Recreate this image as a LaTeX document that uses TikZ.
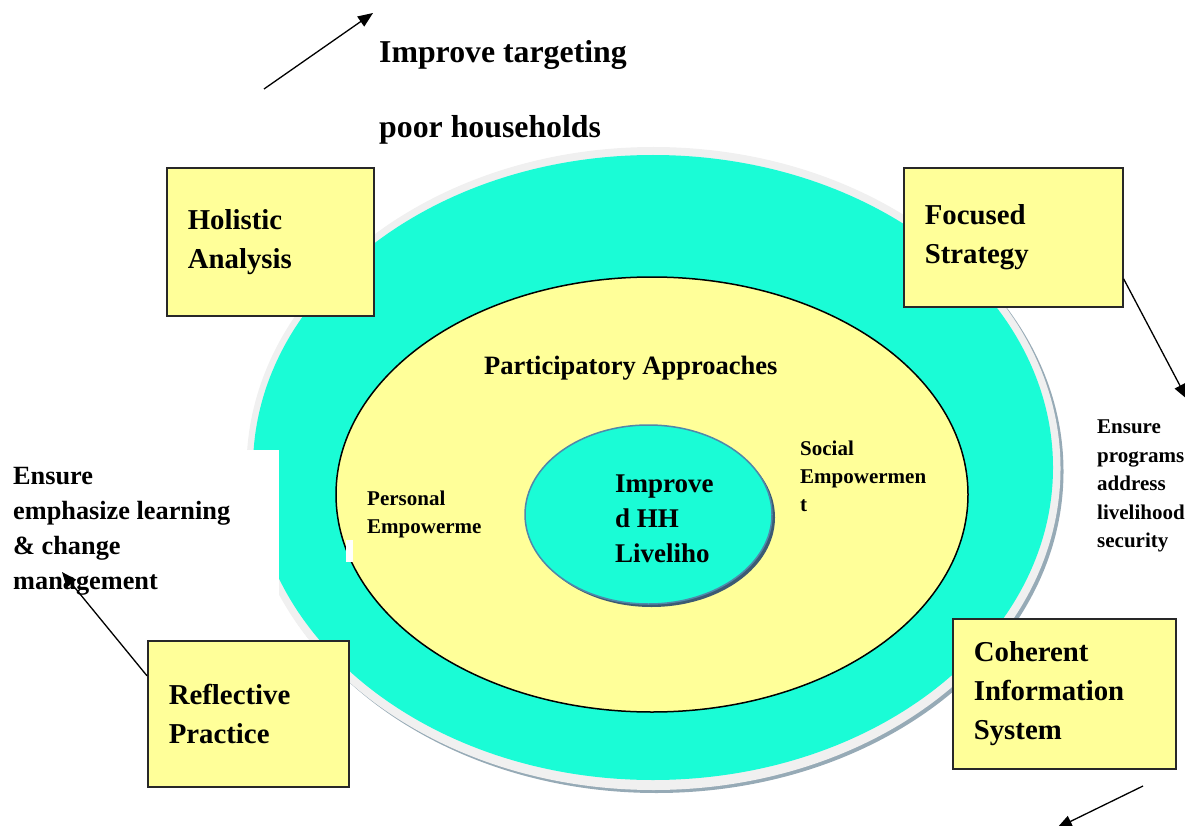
\documentclass[tikz,border=0pt]{standalone}
\usepackage{fontspec}
\setmainfont{Liberation Serif}
\usetikzlibrary{arrows.meta}
\definecolor{turq}{RGB}{26,252,214}
\definecolor{yel}{RGB}{255,255,153}
\definecolor{rim}{RGB}{240,240,240}
\definecolor{rimshadow}{RGB}{150,170,182}
\definecolor{smalledge}{RGB}{80,135,170}
\definecolor{smallshadow}{RGB}{60,90,115}
\definecolor{boxline}{RGB}{40,40,40}
\begin{document}
\begin{tikzpicture}[x=1pt,y=-1pt,
  box/.style={draw=boxline,line width=1.6pt,fill=yel,anchor=north west,inner xsep=21pt,inner ysep=0pt,align=left,font=\bfseries\fontsize{28.8}{39}\selectfont},
  lbl/.style={anchor=base west,inner sep=0pt,align=left},
  arr/.style={-{Triangle[length=15pt,width=12pt]},line width=1.3pt},
]
\useasboundingbox (0,0) rectangle (1185,826);
% outer ring
\fill[rimshadow] (656.5,471.5) ellipse [x radius=407pt,y radius=321.5pt];
\fill[rim] (653.5,468.5) ellipse [x radius=407pt,y radius=321.5pt];
\fill[turq] (653,467.5) ellipse [x radius=400pt,y radius=312.5pt];
\fill[white] (240,450) rectangle (279,600);
% inner yellow
\draw[fill=yel,line width=1.5pt] (652,494.5) ellipse [x radius=316pt,y radius=217.5pt];
\fill[white] (346,540) rectangle (353,562);
% centre
\fill[smallshadow] (651.5,517.5) ellipse [x radius=123.5pt,y radius=89.5pt];
\draw[fill=turq,draw=smalledge,line width=1.5pt] (648.5,514.5) ellipse [x radius=123.5pt,y radius=89.5pt];
% boxes
\node[box,text width=165pt,minimum height=148pt] (holistic) at (166,167) {Holistic\\Analysis};
\node[box,text width=177pt,minimum height=139pt] (focused) at (903,167) {Focused\\Strategy};
\node[box,text width=159pt,minimum height=146pt] (reflective) at (147,640) {Reflective\\Practice};
\node[box,text width=181pt,minimum height=150pt] (coherent) at (952,618) {Coherent\\Information\\System};
% texts (anchored at the baseline of the last line)
\node[lbl,font=\bfseries\fontsize{31.8}{75}\selectfont] (target) at (379,138) {Improve targeting\\poor households};
\node[lbl,font=\bfseries\fontsize{26.5}{32}\selectfont] (partic) at (484,374) {Participatory Approaches};
\node[lbl,font=\bfseries\fontsize{27}{35}\selectfont] (hh) at (615,562) {Improve\\d HH\\Liveliho};
\node[lbl,font=\bfseries\fontsize{21}{28.5}\selectfont] (personal) at (367,533.5) {Personal\\Empowerme};
\node[lbl,font=\bfseries\fontsize{21}{28}\selectfont] (social) at (800,511) {Social\\Empowermen\\t};
\node[lbl,font=\bfseries\fontsize{21}{28.4}\selectfont] (ensprog) at (1097,547.5) {Ensure\\programs\\address\\livelihood\\security};
\node[lbl,font=\bfseries\fontsize{26.3}{35}\selectfont] (ensemph) at (13,589) {Ensure\\emphasize learning\\\& change\\management};
% arrows
\coordinate (a1s) at (264,89);
\coordinate (a1e) at (373,13);
\coordinate (a2e) at (1187,399);
\coordinate (a3e) at (62,572);
\coordinate (a4s) at (1143,786);
\coordinate (a4e) at (1057,828);
\draw[arr] (a1s) -- (a1e);
\draw[arr] ([yshift=-41.5pt]focused.east) -- (a2e);
\draw[arr] ([yshift=38pt]reflective.west) -- (a3e);
\draw[arr] (a4s) -- (a4e);
\end{tikzpicture}
\end{document}
